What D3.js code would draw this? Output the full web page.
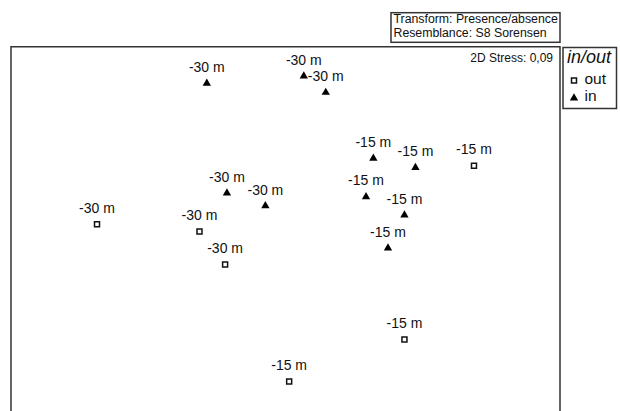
<!DOCTYPE html>
<html>
<head>
<meta charset="utf-8">
<script src="https://cdn.jsdelivr.net/npm/d3@7"></script>
<style>
  body { margin: 0; background: #fff; }
  text { font-family: "Liberation Sans", Arial, sans-serif; fill: #111; }
</style>
</head>
<body>
<svg id="mds"></svg>
<script>
let width = 620;
let height = 411;

// nMDS coordinates
const inX = [-0.43, 0.10, 0.22, -0.32, -0.11, 0.48, 0.71, 0.44, 0.65, 0.56];
const inY = [0.80, 0.84, 0.75, 0.20, 0.13, 0.39, 0.34, 0.18, 0.08, -0.10];
const inLabels = ['-30 m', '-30 m', '-30 m', '-30 m', '-30 m', '-15 m', '-15 m', '-15 m', '-15 m', '-15 m'];

const outX = [-1.03, -0.47, -0.33, 1.03, 0.65, 0.02];
const outY = [0.03, -0.01, -0.19, 0.35, -0.60, -0.83];
const outLabels = ['-30 m', '-30 m', '-30 m', '-15 m', '-15 m', '-15 m'];

const groups = ['out', 'in'];
const stressText = '2D Stress: 0,09';
const infoLines = ['Transform: Presence/absence', 'Resemblance: S8 Sorensen'];

let box = {left: 11, right: 560, top: 46.7};

let svg = d3.select('#mds')
  .attr('width', width)
  .attr('height', height);

let x = d3.scaleLinear()
  .domain([-1.5, 1.5])
  .range([box.left, box.right]);

let y = d3.scaleLinear()
  .domain([1, -1])
  .range([box.top, box.top + 366]);

let points = inX.map((v, i) => ({x: v, y: inY[i], label: inLabels[i], group: 'in'}))
  .concat(outX.map((v, i) => ({x: v, y: outY[i], label: outLabels[i], group: 'out'})));

let shape = {
  'in': d3.symbol().type(d3.symbolTriangle).size(30)(),
  'out': d3.symbol().type(d3.symbolSquare).size(25)()
};

// plot frame (bottom edge runs off the picture)
svg.append('path')
  .attr('d', `M${box.left},${height + 5}V${box.top}H${box.right}V${height + 5}`)
  .attr('fill', 'none')
  .attr('stroke', '#333')
  .attr('stroke-width', 1.5);

// transform / resemblance box
svg.append('rect')
  .attr('x', 391).attr('y', 12.7)
  .attr('width', 169).attr('height', 29.6)
  .attr('fill', 'none')
  .attr('stroke', '#333')
  .attr('stroke-width', 1.5);

svg.selectAll('.info')
  .data(infoLines)
  .enter()
  .append('text')
    .attr('class', 'info')
    .attr('x', 393.5)
    .attr('y', (d, i) => 23 + i * 13.8)
    .attr('font-size', 12.3)
    .text(d => d);

svg.append('text')
  .attr('x', 553)
  .attr('y', 62)
  .attr('text-anchor', 'end')
  .attr('font-size', 12)
  .text(stressText);

// samples
let g = svg.append('g');

g.selectAll('.mark')
  .data(points)
  .enter()
  .append('path')
    .attr('class', 'mark')
    .attr('transform', d => `translate(${x(d.x)},${y(d.y)})`)
    .attr('d', d => shape[d.group])
    .attr('fill', d => d.group == 'in' ? '#000' : '#fff')
    .attr('stroke', d => d.group == 'in' ? 'none' : '#111')
    .attr('stroke-width', 1.5);

g.selectAll('.lab')
  .data(points)
  .enter()
  .append('text')
    .attr('class', 'lab')
    .attr('x', d => x(d.x))
    .attr('y', d => y(d.y) - 11.4)
    .attr('text-anchor', 'middle')
    .attr('font-size', 14)
    .text(d => d.label);

// legend
let legend = svg.append('g');

legend.append('rect')
  .attr('x', 563).attr('y', 47.5)
  .attr('width', 53.5).attr('height', 61)
  .attr('fill', '#fff')
  .attr('stroke', '#333')
  .attr('stroke-width', 1.5);

legend.append('text')
  .attr('x', 567)
  .attr('y', 63)
  .attr('font-size', 18)
  .attr('font-style', 'italic')
  .text('in/out');

legend.selectAll('.key')
  .data(groups)
  .enter()
  .append('path')
    .attr('class', 'key')
    .attr('transform', (d, i) => `translate(574,${80.5 + i * 17.5})`)
    .attr('d', d => shape[d])
    .attr('fill', d => d == 'in' ? '#000' : '#fff')
    .attr('stroke', d => d == 'in' ? 'none' : '#111')
    .attr('stroke-width', 1.5);

legend.selectAll('.keytext')
  .data(groups)
  .enter()
  .append('text')
    .attr('class', 'keytext')
    .attr('x', 584.5)
    .attr('y', (d, i) => 83.5 + i * 17.5)
    .attr('font-size', 15.5)
    .text(d => d);
</script>
</body>
</html>
